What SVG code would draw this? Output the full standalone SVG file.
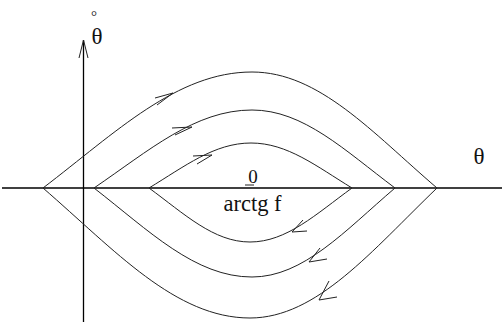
<svg xmlns="http://www.w3.org/2000/svg" width="504" height="324" viewBox="0 0 504 324">
<style>
.axis{stroke:#000;stroke-width:1.3;fill:none}
.traj{stroke:#222;stroke-width:1;fill:none}
.arr{stroke:#222;stroke-width:1;fill:none;stroke-linejoin:miter}
.lbl{font-family:"Liberation Serif","Times New Roman",serif;fill:#111}
</style>
<rect width="504" height="324" fill="#fff"/>
<g id="axes">
<line class="axis" x1="2" y1="188" x2="502" y2="188"/>
<line class="axis" x1="83.5" y1="322" x2="83.5" y2="40"/>
<path class="arr" d="M79,58 L83.5,40 L88,58"/>
</g>
<g id="connectors">
<g id="outer">
<path class="traj" d="M43,188 C116,132.3 177,72 252,72 C319,72 372,132.3 437,188"/>
<path class="traj" d="M43,188 C115,250.4 175.5,318 250,318 C317,318 372,250.4 437,188"/>
<path class="arr" d="M155,98 L173,93 L157,105"/>
<path class="arr" d="M329,281 L319,300 L337,297"/>
</g>
<g id="middle">
<path class="traj" d="M94,188 C149,150.6 195,110 252,110 C303.5,110 345,150.6 395,188"/>
<path class="traj" d="M94,188 C149,230.7 195,277 252,277 C303.5,277 345,230.7 395,188"/>
<path class="arr" d="M172,128 L192,127 L175,135"/>
<path class="arr" d="M320,248 L309,262 L327,259"/>
</g>
<g id="inner">
<path class="traj" d="M149,188 C184.7,166.4 214.3,143 251,143 C287.4,143 316.6,166.4 352,188"/>
<path class="traj" d="M149,188 C184.4,213.9 213.6,242 250,242 C286.7,242 316.3,213.9 352,188"/>
<path class="arr" d="M193,156 L212,155 L197,164"/>
<path class="arr" d="M303,220 L292,232 L307,231"/>
</g>
</g>
<g id="labels">
<text class="lbl" x="91" y="21" font-size="15">°</text>
<text class="lbl" x="97" y="44" font-size="23" text-anchor="middle">θ</text>
<text class="lbl" x="479" y="164" font-size="23" text-anchor="middle">θ</text>
<text class="lbl" x="253" y="183" font-size="19" text-anchor="middle">0</text>
<line x1="245" y1="185" x2="254" y2="185" stroke="#222" stroke-width="1"/>
<text class="lbl" x="252.5" y="211" font-size="22.5" text-anchor="middle">arctg f</text>
</g>
</svg>
